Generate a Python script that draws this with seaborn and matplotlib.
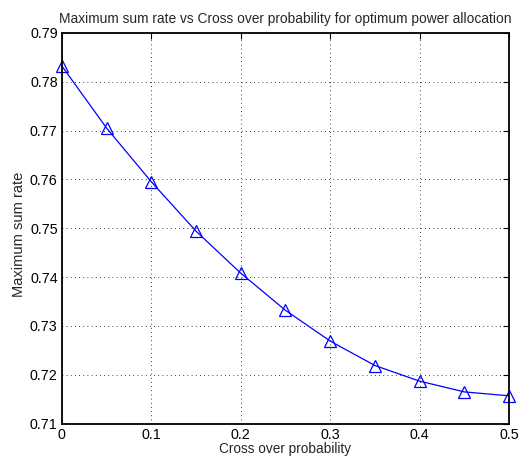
import numpy as np
import pandas as pd
import matplotlib.pyplot as plt
import seaborn as sns

# Data
crossover_prob = [0.0, 0.05, 0.1, 0.15, 0.2, 0.25, 0.3, 0.35, 0.4, 0.45, 0.5]
max_sum_rate = [0.7832, 0.7705, 0.7595, 0.7494, 0.7408, 0.7332, 0.7269,
                0.7219, 0.7187, 0.7165, 0.7157]
x_ticks = [0, 0.1, 0.2, 0.3, 0.4, 0.5]
y_ticks = [0.71, 0.72, 0.73, 0.74, 0.75, 0.76, 0.77, 0.78, 0.79]

df = pd.DataFrame({"p": crossover_prob, "rate": max_sum_rate})

sns.set_style("white")
plt.rcParams["font.family"] = ["Liberation Sans", "DejaVu Sans"]

fig = plt.figure(figsize=(5.2, 4.62), dpi=100)
ax = fig.add_axes([0.119, 0.083, 0.860, 0.846])

sns.lineplot(data=df, x="p", y="rate", ax=ax, color="blue", linewidth=0.9,
             marker="^", markersize=8, markerfacecolor="none",
             markeredgecolor="blue", markeredgewidth=0.9, clip_on=False)

ax.set_xlim(0, 0.5)
ax.set_ylim(0.71, 0.79)
ax.set_xticks(x_ticks)
ax.set_yticks(y_ticks)
ax.set_xticklabels(["0", "0.1", "0.2", "0.3", "0.4", "0.5"])
ax.set_yticklabels([f"{v:.2f}" for v in y_ticks])
ax.grid(True, color="black", linestyle=(0, (1, 4)), linewidth=0.6)
ax.tick_params(direction="in", length=4, width=0.8, labelsize=10.3,
               top=True, right=True, colors="black", pad=3)
for s in ax.spines.values():
    s.set_color("black")
    s.set_linewidth(1.3)

ax.set_title("Maximum sum rate vs Cross over probability for optimum power allocation",
             fontsize=9.9, pad=7)
ax.set_xlabel("Cross over probability", fontsize=9.8, labelpad=0)
ax.set_ylabel("Maximum sum rate", fontsize=10.5, labelpad=3)
ax.yaxis.set_label_coords(-0.080, 0.485)

plt.savefig("out.png", dpi=100)
